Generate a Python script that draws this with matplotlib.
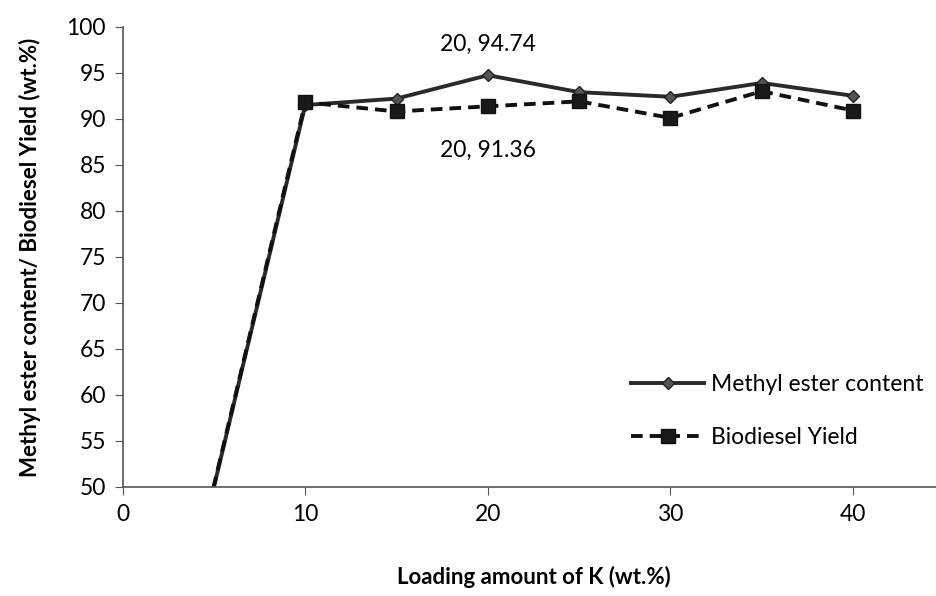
import matplotlib.pyplot as plt

loading = [0, 10, 15, 20, 25, 30, 35, 40]
methyl_ester = [8.5, 91.5, 92.2, 94.74, 92.9, 92.4, 93.9, 92.5]
biodiesel_yield = [8.5, 91.8, 90.8, 91.36, 91.9, 90.1, 93.0, 90.9]

plt.rcParams['font.family'] = ['Lato', 'DejaVu Sans']

fig = plt.figure(figsize=(9.36, 5.96), dpi=100)
ax = fig.add_axes([0.131, 0.183, 0.878, 0.772])

ax.plot(loading, methyl_ester, '-D', color='#2a2a2a', lw=2.8, markersize=6,
        markerfacecolor='#555555', markeredgecolor='#222222', label='Methyl ester content')
ax.plot(loading, biodiesel_yield, '--s', color='#111111', lw=2.8, markersize=10,
        markerfacecolor='#1a1a1a', dashes=(3, 1.8), label='Biodiesel Yield')

ax.annotate('20, 94.74', (20, 94.74), xytext=(0, 15), textcoords='offset points',
            ha='center', va='bottom', fontsize=16.5)
ax.annotate('20, 91.36', (20, 91.36), xytext=(0, -24), textcoords='offset points',
            ha='center', va='top', fontsize=16.5)

ax.set_xlim(0, 45)
ax.set_ylim(50, 100)
ax.set_xticks([0, 10, 20, 30, 40])
ax.set_yticks(range(50, 101, 5))
ax.tick_params(labelsize=16.5, length=6, color='#555555', pad=6)
for s in ['top', 'right']:
    ax.spines[s].set_visible(False)
for s in ['left', 'bottom']:
    ax.spines[s].set_color('#555555')
    ax.spines[s].set_linewidth(1.2)

ax.set_xlabel('Loading amount of K (wt.%)', fontsize=16, fontweight='bold', labelpad=30)
ax.set_ylabel('Methyl ester content/ Biodiesel Yield (wt.%)', fontsize=16,
              fontweight='bold', labelpad=18)

ax.legend(loc='lower right', bbox_to_anchor=(1.0, 0.04), frameon=False, fontsize=16.5,
          handlelength=3.2, handletextpad=0.3, labelspacing=1.4)

fig.savefig('out.png', dpi=100)
